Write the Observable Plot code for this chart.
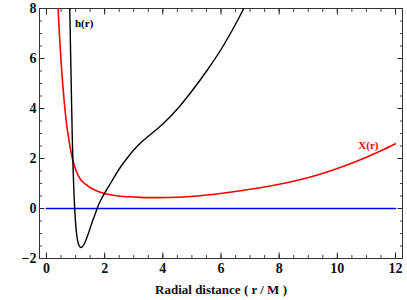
<!DOCTYPE html>
<html>
<head>
<meta charset="utf-8">
<script src="https://cdn.jsdelivr.net/npm/d3@7"></script>
<script src="https://cdn.jsdelivr.net/npm/@observablehq/plot@0.6"></script>
<style>
  html, body { margin: 0; padding: 0; background: #fff; }
  #chart svg { display: block; }
  #chart svg text { font-family: 'Liberation Serif', 'Times New Roman', serif !important; }
</style>
</head>
<body>
<div id="chart"></div>
<script>
// h(r) curve (black)
const hR = [0.80, 0.83, 0.86, 0.89, 0.92, 0.95, 0.98, 1.02, 1.07, 1.12, 1.18, 1.24, 1.30, 1.36, 1.44, 1.52, 1.60, 1.68, 1.74, 1.85, 2.00, 2.25, 2.50, 2.75, 3.00, 3.25, 3.50, 3.75, 4.00, 4.50, 5.00, 5.50, 6.00, 6.50, 6.78];
const hV = [8.0, 6.2, 4.4, 2.7, 1.4, 0.5, -0.2, -0.85, -1.28, -1.48, -1.56, -1.52, -1.42, -1.25, -1.0, -0.72, -0.45, -0.2, 0.0, 0.3, 0.62, 1.1, 1.58, 1.98, 2.34, 2.64, 2.89, 3.13, 3.38, 3.98, 4.70, 5.49, 6.36, 7.37, 8.0];

// X(r) curve (red)
const xR = [0.40, 0.45, 0.50, 0.55, 0.60, 0.65, 0.70, 0.75, 0.80, 0.88, 0.95, 1.05, 1.15, 1.25, 1.35, 1.50, 1.70, 1.90, 2.10, 2.40, 2.80, 3.20, 3.70, 4.20, 4.70, 5.20, 5.70, 6.30, 7.00, 7.50, 8.00, 8.60, 9.20, 9.80, 10.40, 11.00, 11.50, 12.00];
const xV = [8.0, 6.85, 5.9, 5.1, 4.4, 3.8, 3.3, 2.9, 2.55, 2.05, 1.75, 1.42, 1.2, 1.06, 0.97, 0.84, 0.72, 0.63, 0.57, 0.51, 0.47, 0.445, 0.435, 0.44, 0.46, 0.50, 0.56, 0.65, 0.77, 0.86, 0.97, 1.12, 1.30, 1.52, 1.77, 2.05, 2.31, 2.59];

// zero line (blue)
const zR = [0, 12];
const zV = [0, 0];

// ticks
const xMajor = [0, 2, 4, 6, 8, 10, 12];
const xMinor = d3.range(0, 12.01, 0.5);
const yMajor = [-2, 0, 2, 4, 6, 8];
const yMinor = d3.range(-2, 8.01, 0.5);

// curve labels
const labelText = ["h(r)", "X(r)"];
const labelR = [0.98, 10.72];
const labelV = [7.42, 2.52];
const labelStyle = ["normal", "italic"];
const labelColor = ["#000000", "#ff0000"];

const hData = hR.map((r, i) => ({r, v: hV[i]}));
const xData = xR.map((r, i) => ({r, v: xV[i]}));
const zData = zR.map((r, i) => ({r, v: zV[i]}));
const labels = labelText.map((t, i) => ({t, r: labelR[i], v: labelV[i], s: labelStyle[i], c: labelColor[i]}));

const font = "'Liberation Serif', 'Times New Roman', serif";
const blank = () => "";

const chart = Plot.plot({
  width: 407,
  height: 300,
  marginLeft: 39,
  marginRight: 5,
  marginTop: 8,
  marginBottom: 42,
  style: {fontFamily: font, background: "#fff", overflow: "visible"},
  x: {domain: [-0.24, 12.24]},
  y: {domain: [-2, 8]},
  marks: [
    // minor ticks
    Plot.axisX({anchor: "bottom", ticks: xMinor, tickSize: -3, tickFormat: blank, label: null, stroke: "#444"}),
    Plot.axisX({anchor: "top", ticks: xMinor, tickSize: -3, tickFormat: blank, label: null, stroke: "#444"}),
    Plot.axisY({anchor: "left", ticks: yMinor, tickSize: -3, tickFormat: blank, label: null, stroke: "#444"}),
    Plot.axisY({anchor: "right", ticks: yMinor, tickSize: -3, tickFormat: blank, label: null, stroke: "#444"}),
    // major ticks
    Plot.axisX({anchor: "bottom", ticks: xMajor, tickSize: -5.5, tickFormat: blank, label: null, stroke: "#222"}),
    Plot.axisX({anchor: "top", ticks: xMajor, tickSize: -5.5, tickFormat: blank, label: null, stroke: "#222"}),
    Plot.axisY({anchor: "left", ticks: yMajor, tickSize: -5.5, tickFormat: blank, label: null, stroke: "#222"}),
    Plot.axisY({anchor: "right", ticks: yMajor, tickSize: -5.5, tickFormat: blank, label: null, stroke: "#222"}),
    // tick labels
    Plot.axisX({anchor: "bottom", ticks: xMajor, tickSize: 0, tickPadding: 5, fontSize: 14, fontWeight: "bold", fill: "#111",
      label: "Radial distance ( r / M )", labelAnchor: "center", labelArrow: "none", labelOffset: 35}),
    Plot.axisY({anchor: "left", ticks: yMajor, tickSize: 0, tickPadding: 3, fontSize: 14, fontWeight: "bold", fill: "#111",
      tickFormat: d => d < 0 ? "\u2212" + Math.abs(d) : String(d), label: null}),
    Plot.frame({stroke: "#333", strokeWidth: 1}),
    // curves
    Plot.line(zData, {x: "r", y: "v", stroke: "#0000ff", strokeWidth: 1.6}),
    Plot.line(xData, {x: "r", y: "v", stroke: "#ff0000", strokeWidth: 1.6, curve: "catmull-rom", clip: true}),
    Plot.line(hData, {x: "r", y: "v", stroke: "#000000", strokeWidth: 1.4, curve: "catmull-rom", clip: true}),
    Plot.text(labels, {x: "r", y: "v", text: "t", fill: "c", fontStyle: "s", textAnchor: "start", fontSize: 11, fontWeight: "bold"})
  ]
});

d3.select(chart).selectAll("[aria-label='x-axis label'] text").attr("font-size", 13).attr("font-weight", "bold");

document.getElementById("chart").appendChild(chart);
</script>
</body>
</html>
